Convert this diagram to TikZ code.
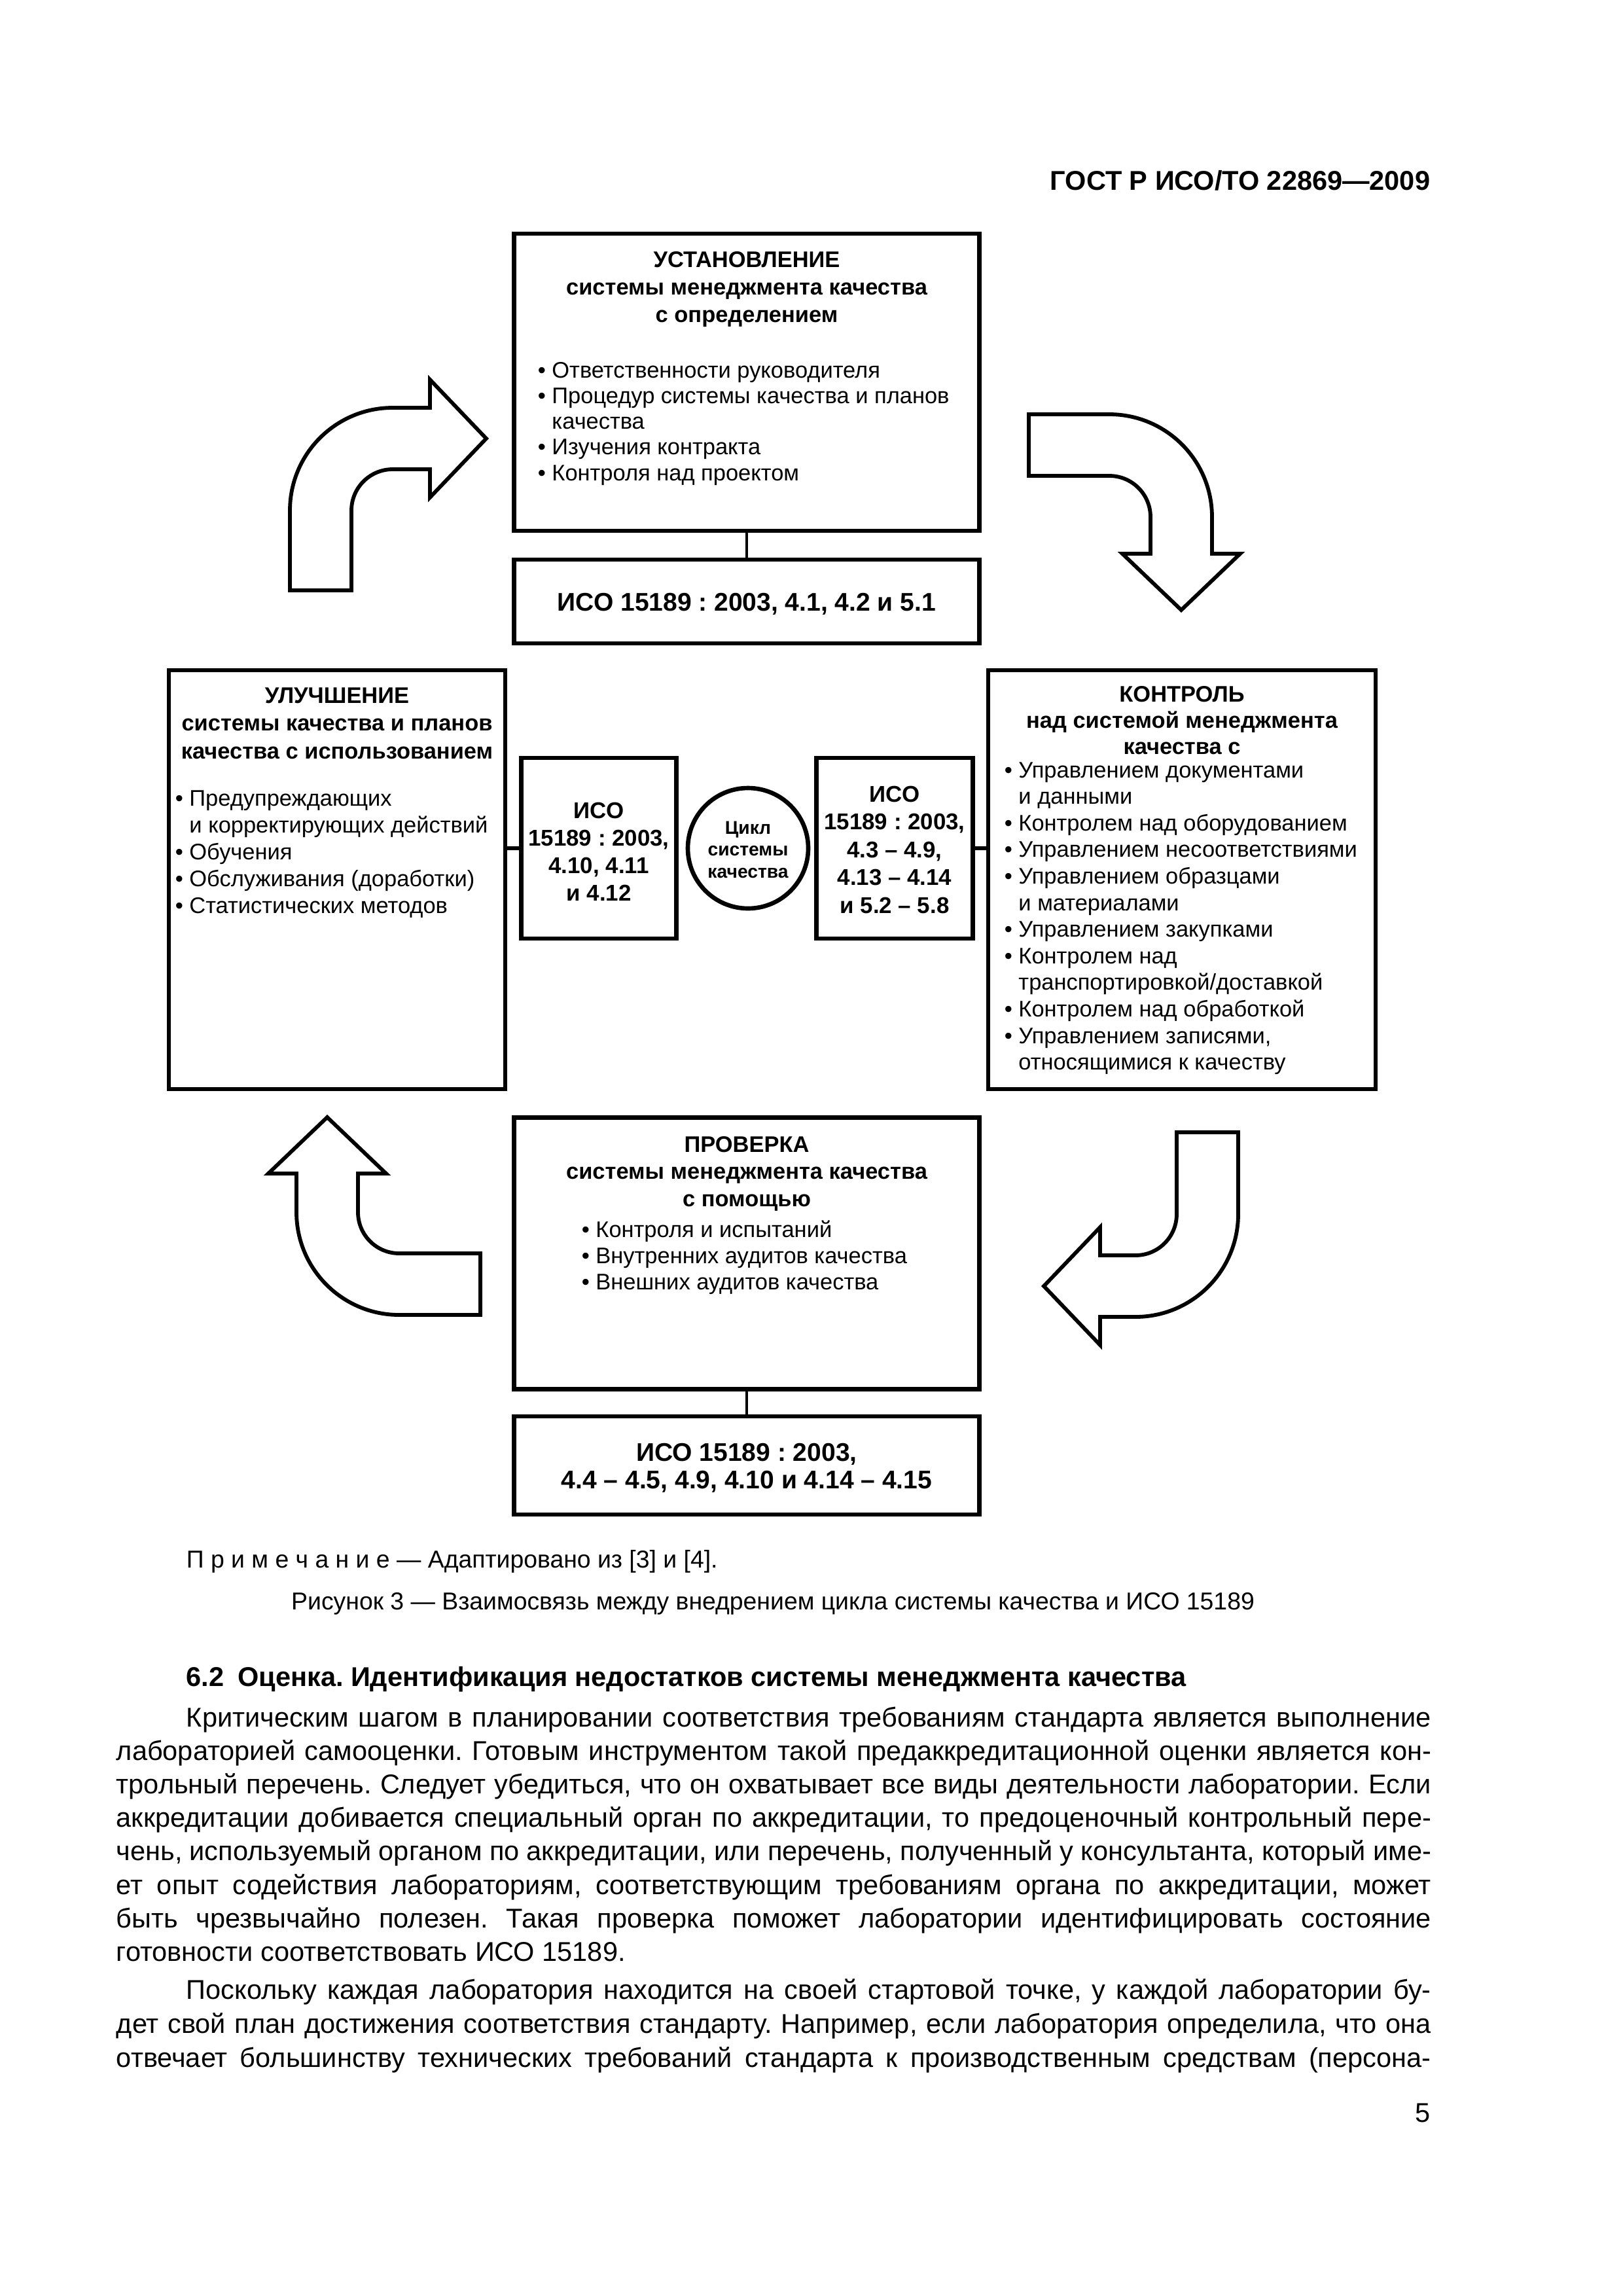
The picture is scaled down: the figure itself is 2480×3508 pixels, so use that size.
\documentclass[tikz,border=0pt]{standalone}
\usepackage{fontspec}
\setmainfont{Liberation Sans}
\frenchspacing
\newlength\px
\setlength\px{0.0846774mm}

\begin{document}
\begin{tikzpicture}[x=0.0846774mm,y=-0.0846774mm,
  box/.style={draw,line width=1.6pt,inner sep=0pt},
  turn/.style={draw,line width=1.4pt,fill=white},
  link/.style={line width=1pt},
  stub/.style={line width=1.6pt},
  head/.style={anchor=base,inner sep=0pt,font=\fontsize{8.3}{10}\selectfont\bfseries},
  item/.style={anchor=base west,inner sep=0pt,font=\fontsize{8.3}{10}\selectfont},
  iso/.style={anchor=base,inner sep=0pt,font=\fontsize{9.4}{11}\selectfont\bfseries},
  smalliso/.style={anchor=base,inner sep=0pt,font=\fontsize{8.4}{10}\selectfont\bfseries},
  body/.style={anchor=base west,inner sep=0pt,font=\fontsize{10}{12}\selectfont}]

  \fill[white] (0,0) rectangle (2480,3508);
  \useasboundingbox (0,0) rectangle (2480,3508);

  % boxes
  \node[box,minimum width=711\px,minimum height=454\px] (plan) at (1141,584) {};
  \node[box,minimum width=711\px,minimum height=128\px] (planiso) at (1141,919) {};
  \node[box,minimum width=514\px,minimum height=640\px] (improve) at (515,1344) {};
  \node[box,minimum width=592\px,minimum height=640\px] (control) at (1806,1344) {};
  \node[box,minimum width=237\px,minimum height=276\px] (improveiso) at (915,1296) {};
  \node[box,minimum width=239\px,minimum height=276\px] (controliso) at (1367,1296) {};
  \node[box,circle,minimum size=184\px] (cycle) at (1143,1296) {};
  \node[box,minimum width=711\px,minimum height=415\px] (check) at (1141,1915) {};
  \node[box,minimum width=711\px,minimum height=150\px] (checkiso) at (1141,2239) {};

  \draw[link] (plan) -- (planiso);
  \draw[link] (check) -- (checkiso);
  \draw[stub] (improveiso.west) -- (improveiso.west -| improve.east);
  \draw[stub] (controliso.east) -- (controliso.east -| control.west);

  % turning arrows
  \draw[turn] (443,902) -- (443,780) arc[start angle=180,end angle=270,radius=157]
    -- (657,623) -- (657,580) -- (743,670) -- (657,760) -- (657,717) -- (600,717)
    arc[start angle=270,end angle=180,radius=63] -- (537,902) -- cycle;
  \draw[turn] (1572,633) -- (1695,633) arc[start angle=270,end angle=360,radius=157]
    -- (1852,846) -- (1895,846) -- (1805,932) -- (1715,846) -- (1758,846) -- (1758,790)
    arc[start angle=0,end angle=-90,radius=63] -- (1572,727) -- cycle;
  \draw[turn] (1798,1730) -- (1892,1730) -- (1892,1855) arc[start angle=0,end angle=90,radius=157]
    -- (1681,2012) -- (1681,2055) -- (1595,1965) -- (1681,1875) -- (1681,1918) -- (1735,1918)
    arc[start angle=90,end angle=0,radius=63] -- cycle;
  \draw[turn] (453,1793) -- (453,1852) arc[start angle=180,end angle=90,radius=157]
    -- (734,2009) -- (734,1915) -- (610,1915) arc[start angle=90,end angle=180,radius=63]
    -- (547,1793) -- (590,1793) -- (500,1707) -- (410,1793) -- cycle;

  % box texts
  \foreach \t [count=\i from 0] in {УСТАНОВЛЕНИЕ, системы менеджмента качества, с определением}
    \node[head] (planhead\i) at (1141,408+42*\i) {\t};
  \foreach \t [count=\i from 0] in {• Ответственности руководителя, • Процедур системы качества и планов,
      \phantom{• }качества, • Изучения контракта, • Контроля над проектом}
    \node[item] (planitem\i) at (821,577+39.3*\i) {\t};
  \node[iso] (planisotext) at (1141,933) {ИСО 15189 : 2003, 4.1, 4.2 и 5.1};

  \foreach \t [count=\i from 0] in {УЛУЧШЕНИЕ, системы качества и планов, качества с использованием}
    \node[head] (improvehead\i) at (515,1074+42.5*\i) {\t};
  \foreach \t [count=\i from 0] in {• Предупреждающих, \phantom{• }и корректирующих действий,
      • Обучения, • Обслуживания (доработки), • Статистических методов}
    \node[item] (improveitem\i) at (267,1231+41.2*\i) {\t};

  \foreach \t [count=\i from 0] in {КОНТРОЛЬ, над системой менеджмента, качества с}
    \node[head] (controlhead\i) at (1806,1072+40*\i) {\t};
  \foreach \t [count=\i from 0] in {• Управлением документами, \phantom{• }и данными,
      • Контролем над оборудованием, • Управлением несоответствиями, • Управлением образцами,
      \phantom{• }и материалами, • Управлением закупками, • Контролем над,
      \phantom{• }транспортировкой/доставкой, • Контролем над обработкой,
      {• Управлением записями,}, \phantom{• }относящимися к качеству}
    \node[item] (controlitem\i) at (1534,1188+40.6*\i) {\t};

  \foreach \t [count=\i from 0] in {ИСО, {15189 : 2003,}, {4.10, 4.11}, и 4.12}
    \node[smalliso] (improveisotext\i) at (915,1250+42.3*\i) {\t};
  \foreach \t [count=\i from 0] in {ИСО, {15189 : 2003,}, {4.3 – 4.9,}, 4.13 – 4.14, и 5.2 – 5.8}
    \node[smalliso] (controlisotext\i) at (1367,1225+42.5*\i) {\t};
  \foreach \t [count=\i from 0] in {Цикл, системы, качества}
    \node[anchor=base,inner sep=0pt,font=\fontsize{6.8}{8}\selectfont\bfseries] (cycletext\i)
      at (1143,1274+33.5*\i) {\t};

  \foreach \t [count=\i from 0] in {ПРОВЕРКА, системы менеджмента качества, с помощью}
    \node[head] (checkhead\i) at (1141,1760+41.5*\i) {\t};
  \foreach \t [count=\i from 0] in {• Контроля и испытаний, • Внутренних аудитов качества,
      • Внешних аудитов качества}
    \node[item] (checkitem\i) at (888,1890+40*\i) {\t};
  \foreach \t [count=\i from 0] in {{ИСО 15189 : 2003,}, {4.4 – 4.5, 4.9, 4.10 и 4.14 – 4.15}}
    \node[iso] (checkisotext\i) at (1141,2232+42*\i) {\t};

  % page texts
  \node[anchor=base east,inner sep=0pt,font=\fontsize{10}{12}\selectfont\bfseries] (gost)
    at (2186,290) {ГОСТ Р ИСО/ТО 22869—2009};
  \node[anchor=base west,inner sep=0pt,font=\fontsize{9}{11}\selectfont] (note)
    at (284,2395) {П р и м е ч а н и е — Адаптировано из [3] и [4].};
  \node[anchor=base,inner sep=0pt,font=\fontsize{9}{11}\selectfont] (caption)
    at (1181,2459) {Рисунок 3 — Взаимосвязь между внедрением цикла системы качества и ИСО 15189};
  \node[body,font=\fontsize{10}{12}\selectfont\bfseries] (section)
    at (284,2576) {6.2\hspace{0.5em}Оценка. Идентификация недостатков системы менеджмента качества};

  \node[body] (para1-0) at (284,2638)
    {\makebox[1902\px][s]{Критическим шагом в планировании соответствия требованиям стандарта является выполнение}};
  \foreach \t [count=\i] in {
      {лабораторией самооценки. Готовым инструментом такой предаккредитационной оценки является кон-},
      {трольный перечень. Следует убедиться, что он охватывает все виды деятельности лаборатории. Если},
      {аккредитации добивается специальный орган по аккредитации, то предоценочный контрольный пере-},
      {чень, используемый органом по аккредитации, или перечень, полученный у консультанта, который име-},
      {ет опыт содействия лабораториям, соответствующим требованиям органа по аккредитации, может},
      {быть чрезвычайно полезен. Такая проверка поможет лаборатории идентифицировать состояние}}
    \node[body] (para1-\i) at (177,2638+51.2*\i) {\makebox[2009\px][s]{\t}};
  \node[body] (para1-7) at (177,2996) {готовности соответствовать ИСО 15189.};

  \node[body] (para2-0) at (284,3054)
    {\makebox[1902\px][s]{Поскольку каждая лаборатория находится на своей стартовой точке, у каждой лаборатории бу-}};
  \foreach \t [count=\i] in {
      {дет свой план достижения соответствия стандарту. Например, если лаборатория определила, что она},
      {отвечает большинству технических требований стандарта к производственным средствам (персона-}}
    \node[body] (para2-\i) at (177,3054+52*\i) {\makebox[2009\px][s]{\t}};

  \node[body,anchor=base east] (pagenum) at (2186,3242) {5};
\end{tikzpicture}
\end{document}
